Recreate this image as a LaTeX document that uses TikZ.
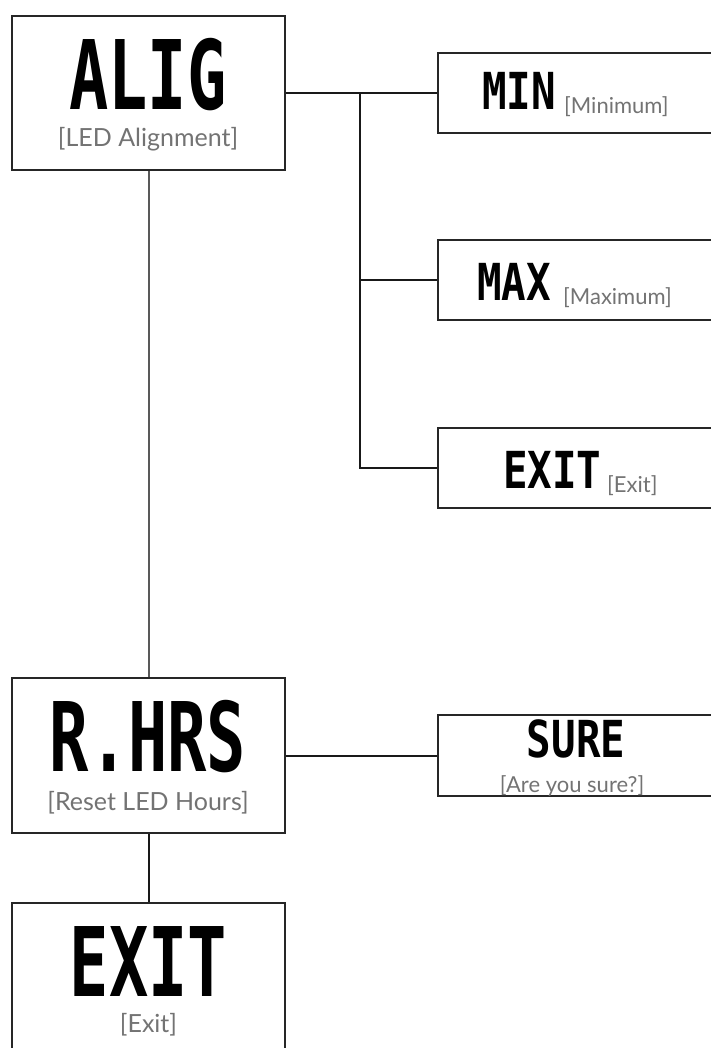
\documentclass[tikz,border=0pt]{standalone}
\usepackage{fontspec}
\setmainfont{Lato}
\newfontfamily\ledbig[FakeStretch=0.68]{DejaVu Sans Mono}
\newfontfamily\ledsmall[FakeStretch=0.8]{DejaVu Sans Mono}
\begin{document}
\begin{tikzpicture}[x=1pt, y=-1pt,
        mainbox/.style={draw=black!85, line width=2.5pt, inner sep=0pt, minimum width=273pt, minimum height=154pt},
        subbox/.style={draw=black!85, line width=2.5pt, inner sep=0pt, minimum width=320pt, minimum height=80pt},
        bigled/.style={inner sep=0pt, anchor=base, font=\ledbig\bfseries\fontsize{96}{96}\selectfont},
        smallled/.style={inner sep=0pt, anchor=base west, font=\ledsmall\bfseries\fontsize{51}{51}\selectfont},
        note/.style={inner sep=0pt, anchor=base, text=black!55, font=\fontsize{25}{25}\selectfont},
        subnote/.style={inner sep=0pt, anchor=base west, text=black!55, font=\fontsize{22}{22}\selectfont},
        link/.style={line width=2pt, black!90}]
    \clip (0,0) rectangle (711,1048);
    % Main menu boxes
    \node[mainbox] (alig) at (148.5,93) {};
    \node[mainbox, minimum height=155pt] (rhrs) at (148.5,755.5) {};
    \node[mainbox] (exitmain) at (148.5,980) {};
    \node[bigled] (aligled) at (148,110) {ALIG};
    \node[note] (alignote) at (148,147) {[LED Alignment]};
    \node[bigled] (rhrsled) at (148,771) {R.HRS};
    \node[note] (rhrsnote) at (148,810) {[Reset LED Hours]};
    \node[bigled] (exitled) at (148.5,996) {EXIT};
    \node[note] (exitnote) at (148.5,1032) {[Exit]};
    % Sub menu boxes
    \node[subbox] (min) at (598,93) {};
    \node[subbox] (max) at (598,280) {};
    \node[subbox] (exitsub) at (598,468) {};
    \node[subbox, minimum height=81pt] (sure) at (598,755.5) {};
    \node[smallled] (minled) at (482,110) {MIN};
    \node[subnote] (minnote) at (564,114) {[Minimum]};
    \node[smallled] (maxled) at (477,300) {MAX};
    \node[subnote] (maxnote) at (563,304) {[Maximum]};
    \node[smallled] (exitsubled) at (503,488) {EXIT};
    \node[subnote] (exitsubnote) at (607,492) {[Exit]};
    \node[smallled, anchor=base] (sureled) at (576,757) {SURE};
    \node[subnote, anchor=base] (surenote) at (572,792) {[Are you sure?]};
    % Connections
    \coordinate (fork) at (360,93);
    \draw[link, black!65] (alig.south) -- (rhrs.north);
    \draw[link] (rhrs.south) -- (exitmain.north);
    \draw[link] (alig.east) -- (min.west);
    \draw[link] (fork) |- (exitsub.west);
    \draw[link] (fork |- max.west) -- (max.west);
    \draw[link] (rhrs.east) -- (sure.west);
\end{tikzpicture}
\end{document}
